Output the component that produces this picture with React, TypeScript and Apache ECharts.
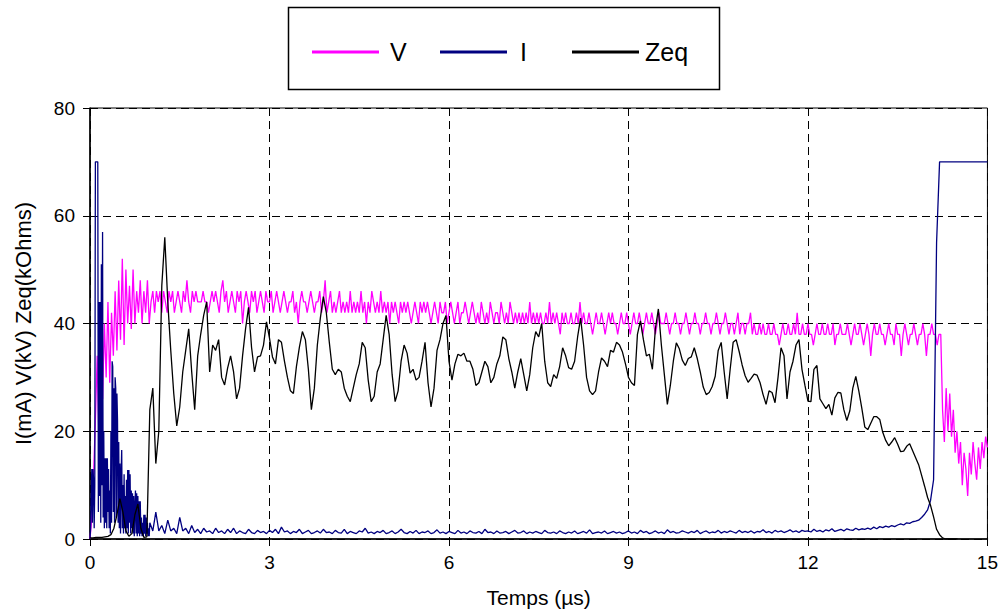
import React, { useEffect, useRef } from "react";
import * as echarts from "echarts";

const FONT = "'Liberation Sans', Arial, Helvetica, sans-serif";

// Axis ranges (µs and mixed units)
const X_MIN = 0;
const X_MAX = 15;
const X_STEP = 3;
const Y_MIN = 0;
const Y_MAX = 80;
const Y_STEP = 20;

const SERIES_NAMES = ["V", "I", "Zeq"];

// V (kV), sampled every 0.03 µs from 0 µs
const vStart = 0;
const vStep = 0.03;
const vValues = [
  0, 4, 12, 22, 34, 18, 36, 26, 40, 30,
  44, 29, 42, 34, 46, 35, 48, 37, 52, 36,
  50, 40, 47, 39, 50, 40, 46, 42, 48, 40,
  46, 42, 48, 40, 44, 46, 42, 46, 44, 46,
  42, 46, 44, 42, 46, 44, 46, 42, 44, 46,
  44, 42, 46, 44, 48, 44, 42, 46, 44, 46,
  44, 44, 44, 46, 44, 44, 42, 44, 46, 44,
  46, 44, 42, 46, 48, 44, 46, 42, 44, 46,
  44, 42, 46, 44, 46, 40, 44, 46, 44, 42,
  46, 44, 46, 42, 44, 46, 44, 42, 46, 44,
  44, 46, 42, 44, 46, 44, 42, 44, 46, 44,
  42, 44, 44, 46, 42, 44, 40, 44, 46, 44,
  44, 42, 44, 46, 44, 42, 44, 44, 46, 42,
  44, 48, 42, 44, 46, 42, 44, 42, 44, 46,
  42, 44, 42, 44, 42, 46, 42, 44, 42, 44,
  42, 46, 42, 44, 40, 44, 42, 46, 44, 42,
  44, 42, 46, 42, 44, 42, 44, 40, 44, 42,
  44, 42, 40, 44, 42, 44, 42, 44, 42, 40,
  42, 44, 42, 40, 44, 42, 44, 42, 44, 42,
  40, 42, 44, 42, 40, 44, 42, 42, 44, 40,
  42, 44, 42, 40, 42, 44, 40, 42, 42, 44,
  42, 40, 42, 44, 42, 40, 42, 40, 44, 42,
  40, 42, 40, 44, 42, 40, 42, 42, 40, 44,
  42, 40, 42, 40, 44, 42, 40, 42, 40, 42,
  40, 42, 40, 42, 40, 44, 40, 42, 40, 42,
  40, 42, 40, 40, 42, 40, 44, 40, 42, 40,
  42, 40, 38, 42, 40, 42, 40, 40, 42, 40,
  40, 42, 40, 44, 40, 42, 40, 40, 42, 40,
  38, 40, 42, 40, 40, 42, 40, 38, 40, 42,
  40, 42, 40, 40, 38, 40, 42, 40, 40, 42,
  40, 38, 40, 42, 40, 40, 42, 40, 38, 40,
  42, 40, 40, 42, 40, 38, 40, 42, 40, 40,
  40, 42, 40, 38, 40, 40, 42, 40, 40, 38,
  40, 40, 42, 40, 38, 40, 40, 42, 40, 40,
  38, 40, 40, 42, 40, 40, 38, 40, 40, 42,
  40, 38, 40, 40, 42, 40, 38, 40, 40, 38,
  40, 42, 38, 40, 40, 38, 40, 40, 42, 38,
  40, 38, 38, 40, 38, 40, 38, 38, 40, 38,
  38, 40, 38, 38, 36, 38, 40, 38, 38, 40,
  38, 38, 40, 38, 42, 38, 38, 40, 38, 38,
  40, 38, 38, 36, 38, 40, 38, 38, 40, 38,
  38, 40, 38, 38, 40, 36, 38, 38, 40, 38,
  38, 38, 40, 38, 36, 38, 40, 38, 38, 40,
  38, 36, 38, 40, 38, 34, 38, 40, 38, 38,
  40, 38, 38, 36, 38, 40, 38, 38, 36, 40,
  38, 38, 34, 38, 40, 38, 36, 38, 38, 40,
  38, 36, 38, 38, 40, 38, 34, 38, 38, 40,
  38, 38, 36, 38, 38, 24, 18, 28, 20, 27,
  19, 24, 16, 20, 14, 18, 10, 16, 13, 8,
  16, 12, 18, 14, 11, 17, 13, 18, 15, 19,
  17,
];

// I (mA), first µs sampled every 0.01 µs
const iEarlyStart = 0;
const iEarlyStep = 0.01;
const iEarlyValues = [
  0, 2, 8, 13, 3, 13, 11, 2, 10, 70,
  70, 70, 70, 70, 5, 44, 8, 44, 3, 51,
  10, 57, 4, 20, 2, 15, 3, 15, 2, 15,
  5, 13, 2, 9, 1, 20, 3, 33, 32, 5,
  28, 3, 30, 28, 4, 27, 22, 3, 18, 2,
  14, 1, 12, 16.5, 2, 10, 1, 12, 2, 8,
  1, 11, 2, 12.8, 1, 12.8, 3, 12, 1, 9,
  2, 8.5, 1, 8, 0.5, 6, 9, 1, 8.5, 0.5,
  8, 1, 7, 0.5, 7, 1, 4, 0.5, 3, 0.5,
  4.5, 1, 4.5, 0.5, 4, 1, 3, 0.5, 2, 0.5,
];

// I (mA), from 1 µs sampled every 0.05 µs
const iLateStart = 1;
const iLateStep = 0.05;
const iLateValues = [
  3, 1.5, 5, 1.5, 2.5, 1, 3.5, 1.5, 2, 1, 4, 1.5, 2, 1, 2.5, 1.2, 1.8, 1, 2, 1.3,
  1.5, 1, 2, 1.2, 1.5, 1, 1.8, 1.2, 2, 1, 1.5, 1.2, 1, 1.8, 1.2, 1, 1.6, 1.2, 1.4, 1,
  1.6, 1.2, 1.8, 1, 2.2, 1.3, 1.5, 1, 1.4, 1.2, 1.8, 1, 1.3, 1.6, 1, 1.2, 1.5, 1.1, 1.8, 1.2,
  1.3, 1, 1.6, 1.2, 1.1, 1.8, 1, 1.4, 1.2, 1, 1.5, 1.3, 2, 1.1, 1.3, 1, 1.4, 1.2, 1.6, 1,
  1.2, 1.5, 1, 1.3, 1.8, 1.2, 1, 1.4, 1.1, 1.6, 1, 1.3, 1.2, 1.5, 1, 1.2, 1.7, 1.1, 1.3, 1,
  1.4, 1.2, 1, 1.6, 1.1, 1.3, 1, 1.5, 1.2, 1.1, 1.4, 1, 1.8, 1.2, 1.3, 1, 1.5, 1.1, 1.2, 1.4,
  1, 1.3, 1.6, 1.1, 1.2, 1.5, 1, 1.3, 1.1, 1.4, 1.2, 1, 1.6, 1.2, 1.1, 1.3, 1, 1.5, 1.2, 1,
  1.3, 1.1, 1.5, 1, 1.2, 1.4, 1.1, 1.7, 1, 1.2, 1.3, 1.1, 1.5, 1, 1.2, 1.4, 1.1, 1.3, 1, 1.2,
  1.5, 1.1, 1.3, 1, 1.6, 1.2, 1.4, 1, 1.2, 1.5, 1.1, 1.3, 1, 1.7, 1.2, 1.4, 1.1, 1.2, 1.5, 1.3,
  1.1, 1.4, 1.2, 1.6, 1, 1.3, 1.5, 1.1, 1.3, 1.2, 1.6, 1.1, 1.4, 1.2, 1.5, 1.3, 1.1, 1.6, 1.2, 1.4,
  1.2, 1.5, 1.1, 1.4, 1.3, 1.7, 1.2, 1.4, 1.1, 1.6, 1.3, 1.5, 1.2, 1.4, 1.7, 1.3, 1.5, 1.2, 1.6, 1.4,
  1.5, 1.3, 1.8, 1.4, 1.6, 1.3, 1.7, 1.5, 1.9, 1.4, 1.6, 1.8, 1.5, 1.9, 1.7, 1.6, 2, 1.7, 1.9, 1.8,
  2, 1.8, 2.2, 1.9, 2.3, 2.1, 2.4, 2.2, 2.5, 2.3, 2.6, 2.8, 2.6, 3, 2.9, 3.2, 3.3, 3.5, 4, 4.6,
  5.4, 7.2, 11, 55, 70, 70, 70, 70, 70, 70, 70, 70, 70, 70, 70, 70, 70, 70, 70, 70,
  70,
];

// Zeq (kOhms), sampled every 0.05 µs from 0 µs
const zeqStart = 0;
const zeqStep = 0.05;
const zeqValues = [
  0.2, 0.2, 0.3, 0.3, 0.3, 0.4, 0.5, 0.8, 2, 4.5,
  7.5, 5, 1.5, 0.5, 1, 4.5, 6.5, 2, 0.3, 0.4,
  24, 28, 14, 20, 47, 56, 44, 35, 27, 21,
  24.5, 31, 35, 39, 31, 24, 34, 38, 41.5, 44,
  31, 36, 35, 37, 30, 28.6, 31.7, 34, 31, 26,
  28, 34, 39, 43, 35.6, 31, 33.8, 34, 36, 40.3,
  37.3, 33.8, 32.5, 37, 36.5, 33, 30, 27.5, 27, 32,
  35.6, 38.5, 37, 31.5, 24, 28, 36, 41, 45, 42,
  36.5, 31.5, 30.5, 31.5, 31, 28, 26.5, 25.5, 28, 30.5,
  32.5, 36.5, 35.5, 29.5, 25.5, 26.5, 31, 32.5, 37, 41.5,
  38, 30.5, 25.5, 27.5, 33, 36, 34.5, 30.8, 31.5, 29.5,
  30, 33, 36.5, 29, 24.5, 28, 35, 37, 40, 41.5,
  33, 29.5, 32.5, 34.3, 34, 34.5, 33, 33, 31.5, 28.5,
  29, 31, 33, 32, 29, 30, 32.5, 34, 37.5, 37,
  33.5, 31, 28, 31, 33.5, 30.5, 27.5, 30.5, 35.5, 38.5,
  37.5, 40, 33, 29, 28.3, 30.5, 29.8, 32, 35.5, 34,
  31.8, 31.5, 33, 37.5, 41, 36, 30, 27.5, 26.8, 27.5,
  31, 33.6, 33, 32, 35, 34.7, 36.5, 36, 34.7, 32.5,
  30, 29, 28.5, 38, 40.5, 37, 34, 34.3, 31.5, 39,
  42.7, 36, 30.5, 25, 28.5, 33, 36.4, 35.3, 33.2, 32.2,
  33.5, 33.8, 35.5, 33.5, 31, 28.2, 26.8, 27.2, 28.3, 30.2,
  35, 36.5, 31, 26, 31.5, 36.5, 37, 34.8, 32.3, 30.3,
  29.1, 29.8, 30.6, 30.4, 29, 26.8, 25, 27.5, 27.2, 25.3,
  30, 35.5, 34, 26, 31, 33, 36, 37, 31.5, 28.5,
  25.6, 25.5, 31.5, 32.2, 26, 25.1, 24.2, 25, 23, 26.2,
  27.2, 27.1, 24, 22, 23.8, 28, 30.2, 27.5, 24.3, 20.8,
  20.3, 21.5, 22.7, 22.7, 22.2, 19.8, 18.3, 17.3, 18, 18.8,
  17.6, 16.2, 16.3, 17.2, 17.7, 16.4, 15.1, 13.8, 11.8, 9.8,
  7.7, 6.2, 4.1, 1.8, 0.8, 0.2, 0, 0, 0, 0,
  0,
];

const toPairs = (start: number, step: number, values: number[]) =>
  values.map((v, i) => [Number((start + i * step).toFixed(4)), v]);

const vData = toPairs(vStart, vStep, vValues);
const iData = toPairs(iEarlyStart, iEarlyStep, iEarlyValues).concat(
  toPairs(iLateStart, iLateStep, iLateValues)
);
const zeqData = toPairs(zeqStart, zeqStep, zeqValues);

const COLORS = { V: "#FF00FF", I: "#000080", Zeq: "#000000" };

export default function App() {
  const ref = useRef<HTMLDivElement>(null);

  useEffect(() => {
    if (!ref.current) return;
    const chart = echarts.init(ref.current, null, { renderer: "svg" });

    const legendBase = {
      orient: "horizontal",
      top: 39,
      padding: 0,
      icon: "rect",
      itemWidth: 67,
      itemHeight: 3,
      selectedMode: false,
    };
    const legendText = (padLeft: number) => ({
      fontSize: 25,
      fontFamily: FONT,
      color: "#000",
      lineHeight: 26,
      padding: [0, 0, 0, padLeft],
    });

    chart.setOption({
      animation: false,
      backgroundColor: "#ffffff",
      textStyle: { fontFamily: FONT },
      grid: {
        left: 90,
        top: 108,
        right: 13,
        bottom: 74,
        show: true,
        borderColor: "#000",
        borderWidth: 1,
        backgroundColor: "transparent",
      },
      graphic: [
        {
          type: "rect",
          z: 0,
          shape: { x: 288.5, y: 7.5, width: 431, height: 82 },
          style: { fill: "#fff", stroke: "#000", lineWidth: 1.5 },
        },
      ],
      legend: [
        { ...legendBase, left: 312, data: [SERIES_NAMES[0]], textStyle: legendText(6) },
        { ...legendBase, left: 440, data: [SERIES_NAMES[1]], textStyle: legendText(8) },
        { ...legendBase, left: 572, data: [SERIES_NAMES[2]], textStyle: legendText(1) },
      ],
      xAxis: {
        type: "value",
        min: X_MIN,
        max: X_MAX,
        interval: X_STEP,
        name: "Temps (µs)",
        nameLocation: "middle",
        nameGap: 48,
        nameTextStyle: { fontSize: 21, color: "#000", fontFamily: FONT },
        axisLine: { show: true, onZero: false, lineStyle: { color: "#000", width: 1.5 } },
        axisTick: { show: true, inside: false, length: 7, lineStyle: { color: "#000", width: 1 } },
        axisLabel: { fontSize: 19, color: "#000", margin: 14, fontFamily: FONT },
        splitLine: { show: true, lineStyle: { color: "#000", width: 1, type: [8, 5] } },
      },
      yAxis: {
        type: "value",
        min: Y_MIN,
        max: Y_MAX,
        interval: Y_STEP,
        name: "I(mA) V(kV) Zeq(kOhms)",
        nameLocation: "middle",
        nameGap: 56,
        nameTextStyle: { fontSize: 22, color: "#000", fontFamily: FONT },
        axisLine: { show: true, lineStyle: { color: "#000", width: 1.5 } },
        axisTick: { show: true, inside: false, length: 7, lineStyle: { color: "#000", width: 1 } },
        axisLabel: { fontSize: 19, color: "#000", margin: 15, fontFamily: FONT },
        splitLine: { show: true, lineStyle: { color: "#000", width: 1, type: [8, 5] } },
      },
      series: [
        {
          name: "V",
          type: "line",
          data: vData,
          symbol: "none",
          showSymbol: false,
          sampling: undefined,
          lineStyle: { color: COLORS.V, width: 1.3 },
          itemStyle: { color: COLORS.V },
          z: 2,
        },
        {
          name: "I",
          type: "line",
          data: iData,
          symbol: "none",
          showSymbol: false,
          lineStyle: { color: COLORS.I, width: 1.3 },
          itemStyle: { color: COLORS.I },
          z: 3,
        },
        {
          name: "Zeq",
          type: "line",
          data: zeqData,
          symbol: "none",
          showSymbol: false,
          lineStyle: { color: COLORS.Zeq, width: 1.3 },
          itemStyle: { color: COLORS.Zeq },
          z: 4,
        },
      ],
    });

    return () => chart.dispose();
  }, []);

  return (
    <div
      ref={ref}
      style={{ position: "fixed", left: 0, top: 0, width: 1001, height: 613, background: "#fff" }}
    />
  );
}
